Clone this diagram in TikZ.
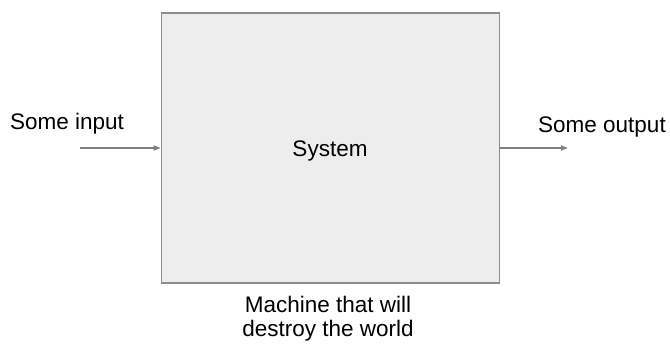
\documentclass[tikz,border=0pt]{standalone}
\usepackage{fontspec}
\setmainfont{Liberation Sans}
\usetikzlibrary{arrows.meta}
\begin{document}
\begin{tikzpicture}[x=1pt,y=-1pt,
  lbl/.style={inner sep=0pt,font=\fontsize{22.5}{23.5}\selectfont,text=black},
  flow/.style={draw=black!50,line width=1.6pt,-{Triangle[length=7pt,width=5pt]}}]
\useasboundingbox (0,0) rectangle (670,345);
\node[draw=black!45,fill=black!7,line width=1.6pt,minimum width=338pt,minimum height=270pt,inner sep=0pt] (sys) at (330.5,148) {};
\node[lbl] (systxt) at (330,151) {System};
\coordinate (in) at (80,148);
\coordinate (out) at (568,148);
\draw[flow] (in) -- (sys.west |- in);
\draw[flow] (sys.east |- out) -- (out);
\node[lbl,anchor=base west] (inlbl) at (10,129) {Some input};
\node[lbl,anchor=base west] (outlbl) at (538,132) {Some output};
\node[lbl,align=center,anchor=north] (cap) at (328,296) {Machine that will\\destroy the world};
\end{tikzpicture}
\end{document}
